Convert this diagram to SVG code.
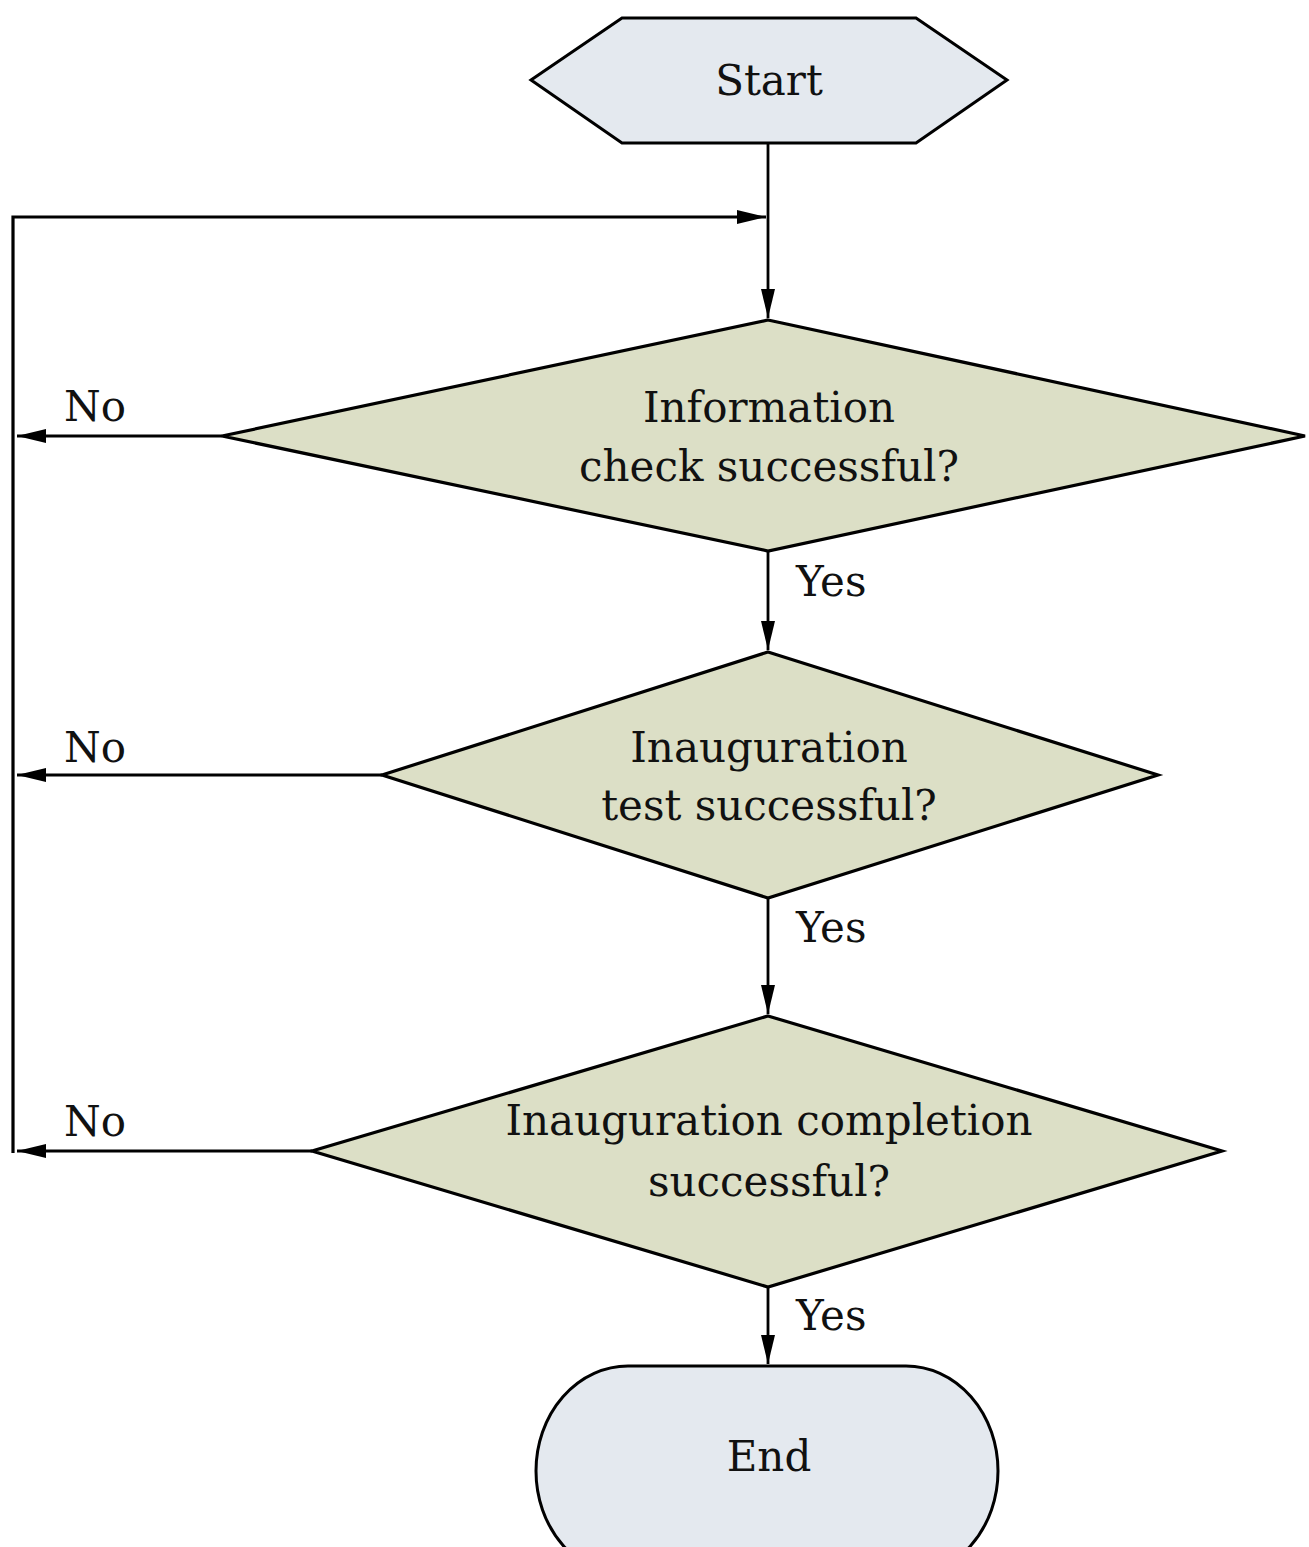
<svg xmlns="http://www.w3.org/2000/svg" width="1309" height="1547" viewBox="0 0 1309 1547">
<style>
.t{font-family:"DejaVu Serif","Liberation Serif",serif;font-size:42px;fill:#111;text-anchor:middle}
.l{font-family:"DejaVu Serif","Liberation Serif",serif;font-size:42px;fill:#111}
.term{fill:#e4e9ef;stroke:#000;stroke-width:3}
.dec{fill:#dcdfc6;stroke:#000;stroke-width:3.2}
.c{fill:none;stroke:#000;stroke-width:2.8}
</style>
<defs>
<marker id="ah" markerUnits="userSpaceOnUse" markerWidth="32" markerHeight="16" refX="29" refY="7" orient="auto">
<path d="M0,0 L29,7 L0,14 z" fill="#000"/>
</marker>
</defs>
<rect width="1309" height="1547" fill="#fff"/>
<g id="connectors">
<path class="c" d="M768,143 V318" marker-end="url(#ah)"/>
<path class="c" d="M13,1153 V217 H766" marker-end="url(#ah)" style="stroke-width:3.2"/>
<path class="c" d="M222,436 H17" marker-end="url(#ah)"/>
<path class="c" d="M382,775 H17" marker-end="url(#ah)"/>
<path class="c" d="M312,1151 H17" marker-end="url(#ah)"/>
<path class="c" d="M768,551 V650" marker-end="url(#ah)"/>
<path class="c" d="M768,898 V1014" marker-end="url(#ah)"/>
<path class="c" d="M768,1287 V1364" marker-end="url(#ah)"/>
<text class="l" x="64" y="421">No</text>
<text class="l" x="64" y="762">No</text>
<text class="l" x="64" y="1136">No</text>
<text class="l" x="796" y="596">Yes</text>
<text class="l" x="796" y="942">Yes</text>
<text class="l" x="796" y="1330">Yes</text>
</g>
<g id="start">
<polygon class="term" points="531,80 622,18 916,18 1007,80 916,143 622,143"/>
<text class="t" x="769" y="95">Start</text>
</g>
<g id="check">
<polygon class="dec" points="768,320 1305,436 768,551 222,436"/>
<text class="t" x="769" y="422">Information</text>
<text class="t" x="769" y="481">check successful?</text>
</g>
<g id="test">
<polygon class="dec" points="768,652 1158,775 768,898 382,775"/>
<text class="t" x="769" y="762">Inauguration</text>
<text class="t" x="769" y="820">test successful?</text>
</g>
<g id="completion">
<polygon class="dec" points="768,1016 1222,1151 768,1287 312,1151"/>
<text class="t" x="769" y="1135">Inauguration completion</text>
<text class="t" x="769" y="1196">successful?</text>
</g>
<g id="end">
<rect class="term" x="536" y="1366" width="462" height="210" rx="92" ry="105"/>
<text class="t" x="769" y="1471">End</text>
</g>
</svg>
